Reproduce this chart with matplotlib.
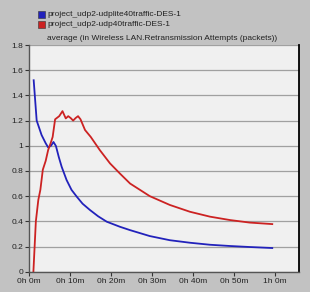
import matplotlib
matplotlib.use("Agg")
import matplotlib.pyplot as plt

plt.rcParams['font.family'] = ['Liberation Sans', 'DejaVu Sans']

series_names = ["project_udp2-udplite40traffic-DES-1", "project_udp2-udp40traffic-DES-1"]
title = "average (in Wireless LAN.Retransmission Attempts (packets))"

blue_t = [1.07, 1.8, 3.0, 4.0, 4.6, 5.3, 5.9, 6.5, 7.2, 7.9, 9.1, 10.3, 11.6, 13.0, 14.8,
          16.8, 18.9, 22.1, 24.6, 29.4, 34.3, 39.2, 44.1, 49.0, 53.8, 59.3]
blue_v = [1.52, 1.20, 1.085, 1.02, 0.987, 1.0, 1.03, 0.998, 0.91, 0.833, 0.728, 0.65, 0.595,
          0.54, 0.49, 0.44, 0.397, 0.357, 0.33, 0.283, 0.25, 0.23, 0.214, 0.204, 0.196, 0.188]

red_t = [1.0, 1.3, 1.6, 2.2, 2.7, 3.3, 4.0, 4.6, 5.2, 5.7, 6.3, 7.3, 8.1, 8.9, 9.5, 10.1,
         10.7, 11.3, 11.9, 12.5, 13.6, 15.0, 17.2, 19.7, 22.1, 24.6, 29.4, 34.3, 39.2,
         44.1, 49.0, 53.8, 59.3]
red_v = [0.0, 0.2, 0.4, 0.57, 0.65, 0.81, 0.88, 0.966, 1.02, 1.07, 1.21, 1.235, 1.275, 1.217,
         1.235, 1.22, 1.2, 1.22, 1.235, 1.21, 1.125, 1.07, 0.966, 0.86, 0.78, 0.70, 0.60,
         0.53, 0.476, 0.437, 0.41, 0.39, 0.378]

x_ticks = [0, 10, 20, 30, 40, 50, 60]
x_labels = ["0h 0m", "0h 10m", "0h 20m", "0h 30m", "0h 40m", "0h 50m", "1h 0m"]
y_ticks = [0, 0.2, 0.4, 0.6, 0.8, 1.0, 1.2, 1.4, 1.6, 1.8]
y_labels = ["0", "0.2", "0.4", "0.6", "0.8", "1", "1.2", "1.4", "1.6", "1.8"]

colors = ["#2222bb", "#cc2222"]

fig = plt.figure(figsize=(3.10, 2.92), dpi=100, facecolor="#c2c2c2")
W, H = 310, 292
ax = fig.add_axes([29.3 / W, 1 - 271.7 / H, (299.3 - 29.3) / W, (271.7 - 45) / H])
ax.set_facecolor("#f0f0f0")

ax.plot(blue_t, blue_v, color=colors[0], lw=1.3)
ax.plot(red_t, red_v, color=colors[1], lw=1.3)

fs = 6.0
ax.set_xlim(0, 65.9)
ax.set_ylim(0, 1.8)
ax.set_xticks(x_ticks)
ax.set_xticklabels(x_labels, fontsize=fs, color="#222222")
ax.set_yticks(y_ticks)
ax.set_yticklabels(y_labels, fontsize=fs, color="#222222")
ax.tick_params(length=3, width=0.8, color="#333333", pad=1.5)
ax.yaxis.grid(True, color="#a0a0a0", lw=0.9)
ax.set_axisbelow(True)
for s in ["left", "bottom"]:
    ax.spines[s].set_color("#555555")
    ax.spines[s].set_linewidth(1.0)
ax.spines["right"].set_color("black")
ax.spines["right"].set_linewidth(1.3)
ax.spines["top"].set_visible(False)

fig.text(162.5 / W, 1 - 38.5 / H, title, ha="center", va="center", fontsize=fs, color="#222222")

for i, name in enumerate(series_names):
    y = 14 + 10 * i
    fig.patches.append(plt.Rectangle((38 / W, 1 - (y + 3.5) / H), 7 / W, 7 / H,
                                     transform=fig.transFigure, facecolor=colors[i],
                                     edgecolor="#333333", lw=0.4))
    fig.text(47 / W, 1 - y / H, name, ha="left", va="center", fontsize=fs, color="#222222")

fig.savefig("out.png", dpi=100, facecolor=fig.get_facecolor())
